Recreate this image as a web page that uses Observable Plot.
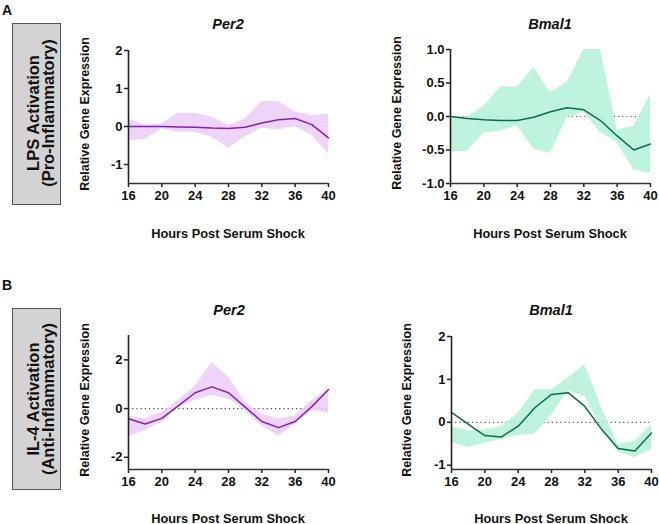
<!DOCTYPE html>
<html>
<head>
<meta charset="utf-8">
<script src="https://cdn.jsdelivr.net/npm/d3@7"></script>
<script src="https://cdn.jsdelivr.net/npm/@observablehq/plot@0.6"></script>
<style>
  html, body { margin: 0; padding: 0; background: #fff; }
  #root { position: relative; width: 659px; height: 524px; overflow: hidden; font-family: "Liberation Sans", Arial, sans-serif; color: #111; }
  .lbl { position: absolute; font-weight: bold; white-space: nowrap; transform: translate(-50%, -50%); }
  .rot { transform: translate(-50%, -50%) rotate(-90deg); }
  .title { font-style: italic; font-size: 14.5px; }
  .box { position: absolute; background: #d3d3d3; border: 1.5px solid #555; box-sizing: border-box; }
  .boxtext { position: absolute; font-weight: bold; font-size: 16.5px; line-height: 15px; text-align: center; white-space: nowrap; transform: translate(-50%, -50%) rotate(-90deg); }
  svg { background: transparent !important; }
</style>
</head>
<body>
<div id="root"></div>
<script>
const hours = [16, 18, 20, 22, 24, 26, 28, 30, 32, 34, 36, 38, 40];
const xTicks = [16, 20, 24, 28, 32, 36, 40];

// Panel A, Per2 (LPS)
const lpsPer2Mean  = [0.00, 0.00, 0.00, -0.01, -0.02, -0.04, -0.05, -0.02, 0.09, 0.18, 0.21, 0.05, -0.30];
const lpsPer2Upper = [0.20, 0.03, 0.07, 0.35, 0.35, 0.25, 0.03, 0.20, 0.66, 0.66, 0.38, 0.29, 0.33];
const lpsPer2Lower = [-0.37, -0.35, -0.06, -0.15, -0.15, -0.28, -0.57, -0.28, -0.04, -0.09, 0.00, -0.24, -0.72];

// Panel A, Bmal1 (LPS)
const lpsBmal1Mean  = [0.00, -0.03, -0.05, -0.06, -0.06, -0.01, 0.07, 0.13, 0.10, -0.06, -0.29, -0.50, -0.41];
const lpsBmal1Upper = [0.01, -0.01, 0.15, 0.44, 0.44, 0.73, 0.36, 0.51, 1.00, 1.00, -0.20, -0.15, 0.33];
const lpsBmal1Lower = [-0.53, -0.52, -0.25, -0.22, -0.14, -0.49, -0.55, -0.02, 0.06, -0.24, -0.39, -0.80, -0.85];

// Panel B, Per2 (IL-4)
const il4Per2Mean  = [-0.42, -0.63, -0.40, 0.12, 0.65, 0.89, 0.65, 0.06, -0.53, -0.78, -0.53, 0.08, 0.78];
const il4Per2Upper = [-0.30, -0.42, -0.15, 0.33, 0.92, 1.89, 1.30, 0.26, -0.22, -0.43, -0.29, 0.33, 0.80];
const il4Per2Lower = [-1.15, -0.90, -0.57, 0.06, 0.33, 0.54, 0.40, -0.08, -0.71, -1.13, -0.64, -0.08, -0.19];

// Panel B, Bmal1 (IL-4)
const il4Bmal1Mean  = [0.23, -0.04, -0.31, -0.34, -0.09, 0.34, 0.65, 0.69, 0.37, -0.16, -0.61, -0.67, -0.25];
const il4Bmal1Upper = [-0.10, -0.20, -0.18, -0.10, 0.21, 0.76, 0.76, 1.04, 1.34, 0.35, -0.52, -0.45, -0.05];
const il4Bmal1Lower = [-0.47, -0.59, -0.49, -0.39, -0.31, -0.27, 0.16, 0.73, 0.60, -0.12, -0.70, -0.82, -0.64];

const purpleLine = "#8221b4", purpleBand = "#ebcbf9";
const greenLine = "#0d6b4b", greenBand = "#b0f1d7";

const root = document.getElementById("root");

function panel(o) {
  const data = hours.map((h, i) => ({h, m: o.mean[i], hi: o.upper[i], lo: o.lower[i]}));
  const fmt = o.decimals ? (d => d.toFixed(1)) : (d => String(d));
  const chart = Plot.plot({
    width: o.width, height: o.height,
    marginLeft: o.ml, marginRight: o.mr, marginTop: o.mt, marginBottom: o.mb,
    style: {fontFamily: "Liberation Sans, Arial, sans-serif", fontWeight: "bold", fontSize: "13px", color: "#111", background: "transparent", overflow: "visible"},
    x: {domain: [16, 40]},
    y: {domain: o.yDomain},
    marks: [
      Plot.ruleY([0], {stroke: o.dotColor, strokeWidth: 1.2, strokeDasharray: "1.2,3"}),
      Plot.areaY(data, {x: "h", y1: "lo", y2: "hi", fill: o.band, fillOpacity: 0.82}),
      Plot.lineY(data, {x: "h", y: "m", stroke: o.line, strokeWidth: 1.5}),
      Plot.axisX({ticks: xTicks, tickSize: 4, tickPadding: 3, tickFormat: d => String(d), label: null, strokeWidth: 1.5, stroke: "#222"}),
      Plot.axisY({ticks: o.yTicks, tickSize: 4, tickPadding: 2, tickFormat: fmt, label: null, strokeWidth: 1.5, stroke: "#222"}),
      Plot.ruleX([16], {stroke: "#222", strokeWidth: 1.6}),
      Plot.ruleY([o.yDomain[0]], {stroke: "#333", strokeWidth: 1.6})
    ]
  });
  chart.style.position = "absolute";
  chart.style.left = o.left + "px";
  chart.style.top = o.top + "px";
  chart.style.maxWidth = "none";
  root.appendChild(chart);
}

panel({left: 90, top: 35, width: 250, height: 190, ml: 38, mr: 12, mt: 15, mb: 42,
  yDomain: [-1.5, 2], yTicks: [-1, 0, 1, 2], decimals: false,
  mean: lpsPer2Mean, upper: lpsPer2Upper, lower: lpsPer2Lower,
  line: purpleLine, band: purpleBand, dotColor: "#b0b0b0"});

panel({left: 410, top: 35, width: 249, height: 190, ml: 40, mr: 9, mt: 14, mb: 42,
  yDomain: [-1, 1], yTicks: [-1, -0.5, 0, 0.5, 1], decimals: true,
  mean: lpsBmal1Mean, upper: lpsBmal1Upper, lower: lpsBmal1Lower,
  line: greenLine, band: greenBand, dotColor: "#666"});

panel({left: 90, top: 320, width: 250, height: 190, ml: 38, mr: 12, mt: 15, mb: 41,
  yDomain: [-2.5, 3], yTicks: [-2, 0, 2], decimals: false,
  mean: il4Per2Mean, upper: il4Per2Upper, lower: il4Per2Lower,
  line: purpleLine, band: purpleBand, dotColor: "#444"});

panel({left: 410, top: 320, width: 249, height: 190, ml: 41, mr: 8, mt: 16, mb: 41,
  yDomain: [-1.1, 2], yTicks: [-1, 0, 1, 2], decimals: false,
  mean: il4Bmal1Mean, upper: il4Bmal1Upper, lower: il4Bmal1Lower,
  line: greenLine, band: greenBand, dotColor: "#555"});

function label(text, x, y, cls, size) {
  const d = document.createElement("div");
  d.className = "lbl " + (cls || "");
  d.textContent = text;
  d.style.left = x + "px";
  d.style.top = y + "px";
  if (size) d.style.fontSize = size + "px";
  root.appendChild(d);
}

// Panel letters
label("A", 7, 10, "", 14);
label("B", 7, 285, "", 14);

// Row boxes
function box(top, line1, line2, cy) {
  const b = document.createElement("div");
  b.className = "box";
  b.style.left = "12px"; b.style.top = top + "px";
  b.style.width = "49px"; b.style.height = "182px";
  root.appendChild(b);
  const t = document.createElement("div");
  t.className = "boxtext";
  t.style.left = "41px"; t.style.top = cy + "px";
  t.innerHTML = line1 + "<br>" + line2;
  root.appendChild(t);
}
box(23, "LPS Activation", "(Pro-Inflammatory)", 113);
box(308, "IL-4 Activation", "(Anti-Inflammatory)", 399);

// Titles
label("Per2", 228, 24, "title");
label("Bmal1", 550, 24, "title");
label("Per2", 229, 310, "title");
label("Bmal1", 551, 310, "title");

// Y labels
label("Relative Gene Expression", 85, 114, "rot", 12.5);
label("Relative Gene Expression", 397, 113, "rot", 12.5);
label("Relative Gene Expression", 85, 400, "rot", 12.5);
label("Relative Gene Expression", 407, 400, "rot", 12.5);

// X labels
label("Hours Post Serum Shock", 228, 233, "", 12.8);
label("Hours Post Serum Shock", 550, 233, "", 12.8);
label("Hours Post Serum Shock", 228, 518, "", 12.8);
label("Hours Post Serum Shock", 551, 518, "", 12.8);
</script>
</body>
</html>
